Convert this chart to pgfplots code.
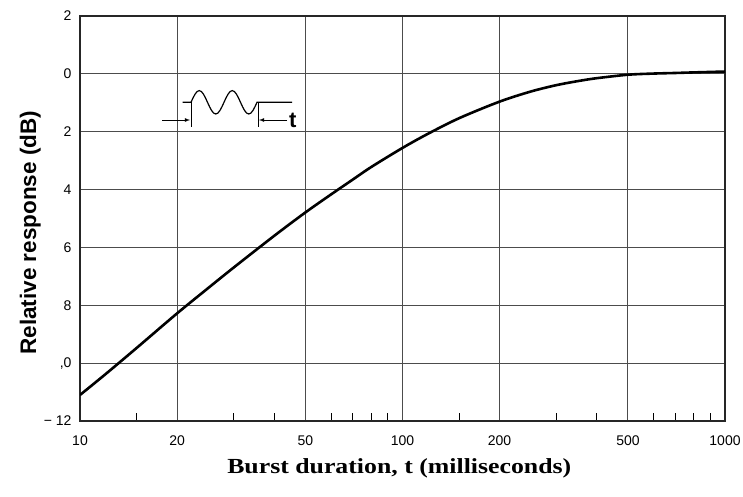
\documentclass[border=0pt]{standalone}
\usepackage{pgfplots}
\pgfplotsset{compat=1.18}
\usepackage{fontspec}
\setmainfont{Liberation Sans}
\newfontfamily\timesfont{Liberation Serif}
\pgfplotstableread{
t r
10 -11.10
12 -10.38
15 -9.47
20 -8.28
25 -7.40
30 -6.69
40 -5.60
50 -4.79
60 -4.17
70 -3.66
80 -3.22
100 -2.56
120 -2.07
150 -1.53
200 -0.96
250 -0.61
300 -0.39
350 -0.25
400 -0.15
500 -0.03
600 0.01
700 0.03
800 0.05
1000 0.08
}\curve
\begin{document}
\begin{tikzpicture}
\path[use as bounding box] (0,0) rectangle (743pt,496pt);
\begin{axis}[
  at={(80pt,75pt)}, anchor=south west,
  scale only axis, width=645pt, height=405pt,
  xmode=log, xmin=10, xmax=1000,
  ymin=-12, ymax=2,
  xtick={10,20,50,100,200,500,1000},
  xticklabels={10,20,50,100,200,500,1000},
  minor xtick={15,30,40,60,70,80,90,150,300,400,600,700,800,900},
  ytick={-12,-10,-8,-6,-4,-2,0,2},
  yticklabels={−\ 12,{,0},8,6,4,2,0,2},
  xtick pos=bottom, ytick pos=left,
  major tick length=0pt, minor tick length=8pt,
  minor tick style={black, line width=0.8pt},
  xmajorgrids, ymajorgrids,
  grid style={line width=0.9pt, color=black!70},
  axis line style={line width=1.8pt, color=black!85},
  tick label style={font=\fontsize{14}{16}\selectfont},
  xticklabel style={yshift=-11pt},
  yticklabel style={xshift=-5pt},
  xlabel={\scalebox{1.2}[1]{\timesfont\bfseries Burst duration, t (milliseconds)}},
  xlabel style={font=\fontsize{21.5}{25}\selectfont, at={(axis description cs:0.495,-0.118)}, anchor=center},
  ylabel={Relative response (dB)},
  ylabel style={font=\bfseries\fontsize{22.5}{26}\selectfont, at={(axis description cs:-0.077,0.465)}, anchor=center},
]
\addplot[black, line width=2.6pt, smooth] table[x=t, y=r] {\curve};
\end{axis}
\begin{scope}[shift={(0,496pt)}, x=1pt, y=-1pt, line width=1.2pt]
  \draw (182.5,102.3) -- (191,102.3)
        sin (199.25,90.6) cos (207.5,102.3) sin (215.75,114) cos (224,102.3)
        sin (232.25,90.6) cos (240.5,102.3) sin (248.75,114) cos (257,102.3)
        -- (292,102.3);
  \draw[line width=0.8pt] (191,102.3) -- (191,127);
  \draw[line width=0.8pt] (258,102.3) -- (258,127);
  \draw[line width=0.8pt, -latex] (162,120) -- (190,120);
  \draw[line width=0.8pt, -latex] (287,120) -- (259,120);
  \node[font=\bfseries\fontsize{22}{24}\selectfont, anchor=west, inner sep=0pt] at (288.5,120) {t};
\end{scope}
\end{tikzpicture}
\end{document}
